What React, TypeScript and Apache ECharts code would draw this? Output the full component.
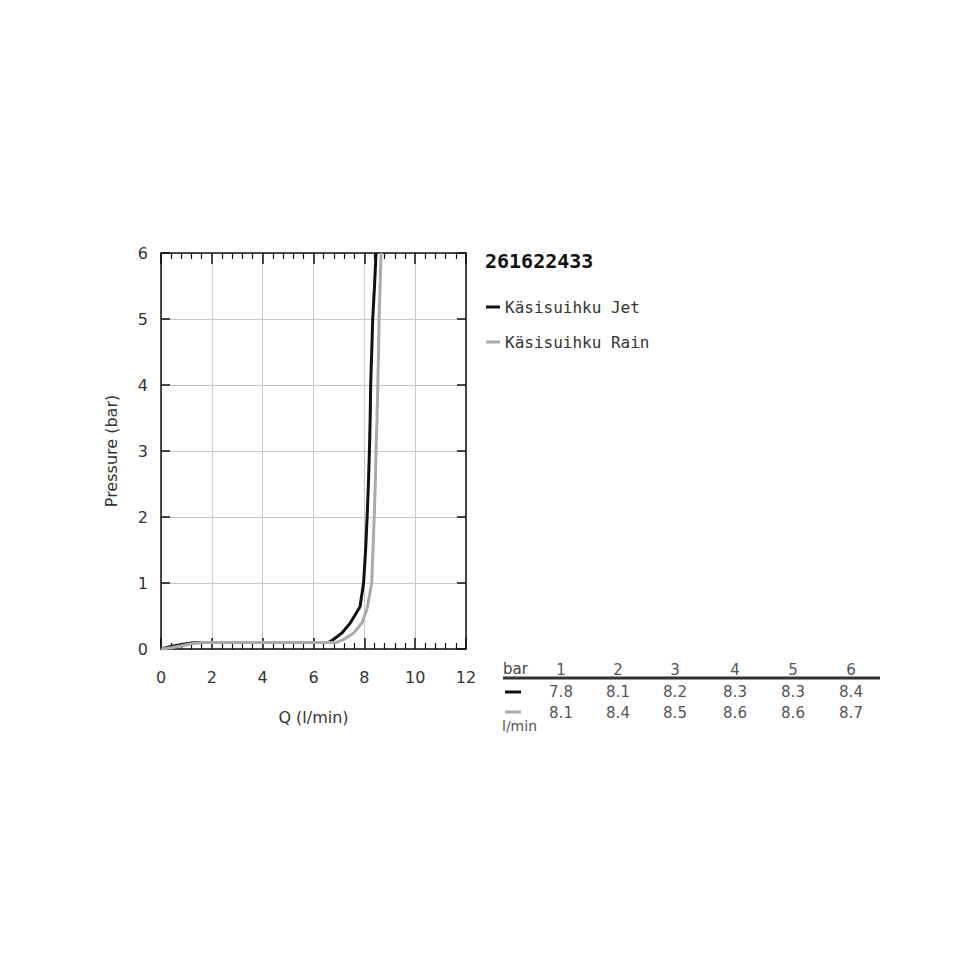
import React, { useEffect, useRef } from "react";
import * as echarts from "echarts";

const chartTitle = "261622433";
const seriesNames = ["Käsisuihku Jet", "Käsisuihku Rain"];
const seriesColors = ["#111111", "#aaaaaa"];

const jetCurve: [number, number][] = [
  [0, 0], [0.4, 0.04], [0.8, 0.07], [1.2, 0.09], [1.5, 0.1], [6.6, 0.1],
  [6.77, 0.14], [7.11, 0.24], [7.44, 0.39], [7.83, 0.64], [7.97, 1.0],
  [8.05, 1.5], [8.11, 2.0], [8.16, 2.5], [8.2, 3.0], [8.23, 3.5],
  [8.25, 4.0], [8.29, 4.5], [8.33, 5.0], [8.4, 5.5], [8.46, 6.0],
];
const rainCurve: [number, number][] = [
  [0, 0], [0.4, 0.02], [0.8, 0.05], [1.2, 0.08], [1.6, 0.1], [6.9, 0.1],
  [7.17, 0.14], [7.57, 0.24], [7.9, 0.39], [8.1, 0.6], [8.22, 0.85],
  [8.29, 1.0], [8.34, 1.5], [8.39, 2.0], [8.43, 2.5], [8.46, 3.0],
  [8.5, 3.5], [8.53, 4.0], [8.56, 4.5], [8.58, 5.0], [8.62, 5.5], [8.66, 6.0],
];

const tableBars = ["1", "2", "3", "4", "5", "6"];
const tableJet = ["7.8", "8.1", "8.2", "8.3", "8.3", "8.4"];
const tableRain = ["8.1", "8.4", "8.5", "8.6", "8.6", "8.7"];

const FONT = "DejaVu Sans";
const MONO = "DejaVu Sans Mono";

export default function App() {
  const ref = useRef<HTMLDivElement>(null);
  useEffect(() => {
    if (!ref.current) return;
    const chart = echarts.init(ref.current, undefined, { renderer: "svg" });
    const colX = [561, 618, 675, 735, 793, 851];
    const tableGraphics: any[] = [];
    tableGraphics.push({
      type: "text", left: 503, top: 661,
      style: { text: "bar", font: `15px '${FONT}'`, fill: "#444" },
    });
    tableGraphics.push({
      type: "line", shape: { x1: 503, y1: 678, x2: 880, y2: 678 },
      style: { stroke: "#333", lineWidth: 3 },
    });
    tableGraphics.push({
      type: "line", shape: { x1: 505, y1: 692, x2: 521, y2: 692 },
      style: { stroke: seriesColors[0], lineWidth: 3 },
    });
    tableGraphics.push({
      type: "line", shape: { x1: 505, y1: 712, x2: 521, y2: 712 },
      style: { stroke: seriesColors[1], lineWidth: 3 },
    });
    tableGraphics.push({
      type: "text", left: 502, top: 719,
      style: { text: "l/min", font: `14px '${FONT}'`, fill: "#555" },
    });
    tableBars.forEach((b, i) => {
      tableGraphics.push({
        type: "text", x: colX[i], y: 670,
        style: { text: b, font: `15px '${FONT}'`, fill: "#555", align: "center", verticalAlign: "middle" },
      });
      tableGraphics.push({
        type: "text", x: colX[i], y: 692,
        style: { text: tableJet[i], font: `15px '${FONT}'`, fill: "#555", align: "center", verticalAlign: "middle" },
      });
      tableGraphics.push({
        type: "text", x: colX[i], y: 713,
        style: { text: tableRain[i], font: `15px '${FONT}'`, fill: "#555", align: "center", verticalAlign: "middle" },
      });
    });

    const axisCommon = {
      type: "value" as const,
      axisLine: { show: true, onZero: false, lineStyle: { color: "#111", width: 1.5 } },
    };

    chart.setOption({
      animation: false,
      backgroundColor: "#ffffff",
      title: {
        text: chartTitle,
        left: 480,
        top: 246,
        textStyle: { fontFamily: MONO, fontWeight: "bold", fontSize: 20, color: "#111" },
      },
      legend: {
        left: 481,
        top: 294,
        orient: "vertical",
        itemGap: 19,
        icon: "rect",
        itemWidth: 14,
        itemHeight: 3,
        data: seriesNames,
        textStyle: { fontFamily: MONO, fontSize: 16, color: "#333", lineHeight: 16 },
      },
      grid: { left: 161, top: 253, width: 305, height: 396 },
      xAxis: [
        {
          ...axisCommon,
          position: "bottom",
          min: 0, max: 12, interval: 2,
          name: "Q (l/min)",
          nameLocation: "middle",
          nameGap: 60,
          nameTextStyle: { fontFamily: FONT, fontSize: 16, color: "#333" },
          axisTick: { show: true, inside: true, length: 11, lineStyle: { color: "#111", width: 1.5 } },
          minorTick: { show: true, splitNumber: 5, length: 6, lineStyle: { color: "#111", width: 1.2 } },
          axisLabel: { fontFamily: FONT, fontSize: 16, color: "#333", margin: 20 },
          splitLine: { show: true, lineStyle: { color: "#c8c8c8", width: 1 } },
        },
        {
          ...axisCommon,
          position: "top",
          min: 0, max: 12, interval: 2,
          axisTick: { show: true, inside: true, length: 11, lineStyle: { color: "#111", width: 1.5 } },
          minorTick: { show: true, splitNumber: 5, length: 6, lineStyle: { color: "#111", width: 1.2 } },
          axisLabel: { show: false },
          splitLine: { show: false },
        },
      ],
      yAxis: [
        {
          ...axisCommon,
          position: "left",
          min: 0, max: 6, interval: 1,
          name: "Pressure (bar)",
          nameLocation: "middle",
          nameGap: 42,
          nameTextStyle: { fontFamily: FONT, fontSize: 16, color: "#333" },
          axisTick: { show: true, inside: true, length: 9, lineStyle: { color: "#111", width: 1.5 } },
          axisLabel: { fontFamily: FONT, fontSize: 16, color: "#333", margin: 13 },
          splitLine: { show: true, lineStyle: { color: "#c8c8c8", width: 1 } },
        },
        {
          ...axisCommon,
          position: "right",
          min: 0, max: 6, interval: 1,
          axisTick: { show: true, inside: true, length: 9, lineStyle: { color: "#111", width: 1.5 } },
          axisLabel: { show: false },
          splitLine: { show: false },
        },
      ],
      series: [
        {
          name: seriesNames[0],
          type: "line",
          data: jetCurve,
          showSymbol: false,
          symbol: "none",
          lineStyle: { color: seriesColors[0], width: 3 },
          itemStyle: { color: seriesColors[0] },
          z: 3,
        },
        {
          name: seriesNames[1],
          type: "line",
          data: rainCurve,
          showSymbol: false,
          symbol: "none",
          lineStyle: { color: seriesColors[1], width: 3 },
          itemStyle: { color: seriesColors[1] },
          z: 4,
        },
      ],
      graphic: tableGraphics,
    });
    return () => chart.dispose();
  }, []);
  return (
    <div
      ref={ref}
      style={{ position: "absolute", left: 0, top: 0, width: 960, height: 960, background: "#fff" }}
    />
  );
}
